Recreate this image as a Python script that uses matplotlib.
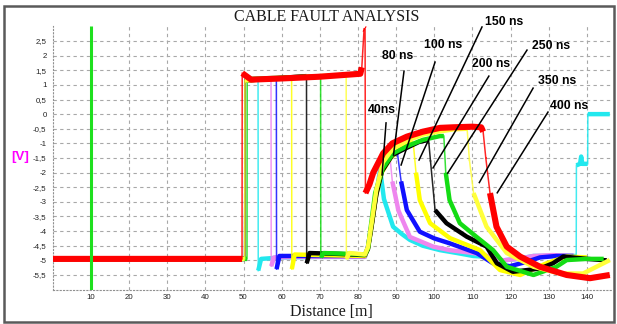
import numpy as np
import matplotlib
matplotlib.use("Agg")
import matplotlib.pyplot as plt
from matplotlib.patches import Rectangle

# ---------------- data ----------------
labels = ["40ns", "80 ns", "100 ns", "150 ns", "200 ns", "250 ns", "350 ns", "400 ns"]
colors = ["#22e8ee", "#ee86ee", "#1010ff", "#ffff00", "#000000", "#14dc14", "#ffff3a", "#ff0000"]

cyan_x = [0, 50.3, 50.35, 53.8, 53.85, 54.6, 60, 70, 81.8, 82.6, 83.6, 84.8, 85.8, 86.8, 89.2, 91.5, 93.6, 97,
          101.5, 106, 110.2, 114, 118, 122, 126, 130, 137.2, 137.25, 138.2, 138.5, 138.8, 140.2, 140.25, 146]
cyan_y = [-4.95, -4.95, 1.15, 1.2, -5.35, -4.95, -4.9, -4.88, -4.88, -4.55, -3.75, -2.7, -1.9, -2.9, -3.85, -4.1,
          -4.3, -4.5, -4.65, -4.75, -4.85, -4.88, -5.0, -4.95, -4.85, -4.85, -4.85, -1.75, -1.7, -1.45, -1.7, -1.7, 0.0, 0.0]

violet_x = [0, 50.3, 50.35, 57.2, 57.25, 58.0, 65, 75, 81.8, 82.6, 83.6, 84.8, 86.0, 87.5, 88.4, 89.0, 90.6, 93.6,
            99.7, 104, 110.2, 114, 118, 122, 126, 131, 136.5]
violet_y = [-4.95, -4.95, 1.15, 1.22, -5.2, -4.9, -4.88, -4.88, -4.88, -4.55, -3.75, -2.7, -1.9, -1.55, -1.5, -2.3,
            -3.3, -4.2, -4.53, -4.65, -4.75, -4.85, -5.0, -4.95, -4.85, -4.82, -4.85]

blue_x = [0, 50.3, 50.35, 58.6, 58.65, 59.4, 65, 75, 81.8, 82.6, 83.6, 84.8, 86, 88, 89.8, 90.4, 91.3, 92.8, 96.2,
          100, 104.1, 111.1, 115.4, 119.8, 124.2, 127.7, 132, 136.5]
blue_y = [-4.95, -4.95, 1.15, 1.22, -5.3, -4.85, -4.85, -4.85, -4.85, -4.55, -3.75, -2.7, -1.95, -1.45, -1.3, -1.4,
          -2.3, -3.28, -4.02, -4.25, -4.42, -4.75, -5.1, -5.2, -5.05, -4.9, -4.85, -4.85]

yellow_x = [0, 50.3, 50.35, 62.6, 62.65, 63.4, 70, 81.8, 82.6, 83.6, 84.8, 86.2, 88.5, 91, 93.8, 94.5, 95.2, 96.2,
            98.9, 104.1, 112, 117.2, 122.5, 129.4, 134.7, 140]
yellow_y = [-4.95, -4.95, 1.15, 1.25, -5.3, -4.8, -4.82, -4.85, -4.6, -3.8, -2.75, -2.0, -1.5, -1.2, -1.0, -1.0,
            -2.0, -2.94, -3.73, -4.24, -4.65, -5.33, -5.5, -5.1, -4.87, -4.9]

black_x = [0, 50.3, 50.35, 66.5, 66.55, 67.3, 75, 81.8, 82.6, 83.6, 84.8, 86.3, 89, 92.8, 96, 98.5, 99.0, 100.2,
           103.2, 108.5, 113.7, 116.4, 120.6, 127.7, 131.1, 133.8, 140, 145.2]
black_y = [-4.95, -4.95, 1.15, 1.3, -5.1, -4.75, -4.78, -4.82, -4.62, -3.8, -2.75, -1.95, -1.4, -1.15, -0.95, -0.88,
           -1.6, -3.28, -3.73, -4.19, -4.53, -5.1, -5.39, -5.28, -5.1, -4.87, -4.95, -5.0]

green_x = [0, 50.9, 50.95, 70.2, 70.25, 71.0, 78, 81.8, 82.6, 83.5, 84.5, 86.5, 89.2, 92.8, 97, 101.5, 102.5, 103.0,
           104.0, 106.7, 111, 115.4, 119, 126, 132, 134.7, 140, 144.4]
green_y = [-4.95, -4.95, 1.2, 1.3, -4.9, -4.75, -4.78, -4.8, -4.6, -3.7, -2.7, -1.85, -1.34, -1.1, -0.88, -0.75,
           -0.75, -2.0, -2.94, -3.73, -4.19, -4.65, -5.22, -5.5, -5.22, -4.99, -4.95, -4.95]

yellow2_x = [0, 50.3, 50.35, 76.9, 76.95, 77.7, 81.8, 82.6, 83.6, 84.8, 86.5, 89, 93, 97, 101, 105, 108.6, 109.2,
             110.3, 113.7, 119, 126, 133, 139, 146]
yellow2_y = [-4.95, -4.95, 1.15, 1.35, -4.95, -4.75, -4.8, -4.55, -3.7, -2.6, -1.65, -1.2, -0.9, -0.7, -0.6, -0.52,
             -0.5, -1.57, -2.7, -3.85, -4.75, -5.22, -5.45, -5.45, -4.99]

red_x = [0, 49.6, 49.65, 52, 60, 70, 80.6, 81.0, 81.6, 81.85, 81.95, 83.0, 84.0, 86.6, 89, 92.8, 97, 101.5, 105,
         110, 112.3, 112.8, 113.5, 114.6, 116.3, 119, 122.5, 127.7, 134.7, 140.8, 146]
red_y = [-4.95, -4.95, 1.4, 1.18, 1.22, 1.28, 1.38, 1.6, 2.92, 2.9, -2.7, -2.4, -2.0, -1.34, -1.0, -0.77, -0.6,
         -0.47, -0.45, -0.43, -0.45, -0.6, -1.5, -2.7, -3.85, -4.53, -4.87, -5.22, -5.5, -5.61, -5.5]

traces_x = [cyan_x, violet_x, blue_x, yellow_x, black_x, green_x, yellow2_x, red_x]
traces_y = [cyan_y, violet_y, blue_y, yellow_y, black_y, green_y, yellow2_y, red_y]

cursor_x = 10

x_ticks = [10, 20, 30, 40, 50, 60, 70, 80, 90, 100, 110, 120, 130, 140]
y_ticks = [2.5, 2, 1.5, 1, 0.5, 0, -0.5, -1, -1.5, -2, -2.5, -3, -3.5, -4, -4.5, -5, -5.5]
y_ticklabels = ["2,5", "2", "1,5", "1", "0,5", "0", "-0,5", "-1", "-1,5", "-2", "-2,5", "-3", "-3,5",
                "-4", "-4,5", "-5", "-5,5"]

# annotation layout (data coordinates)
ann_text_pos = [(86.3, 0.14), (90.5, 1.99), (102.3, 2.36), (118.3, 3.15), (114.9, 1.70),
                (130.6, 2.32), (132.2, 1.15), (135.3, 0.29)]
ann_line_start = [(87.35, -0.30), (92.06, 1.47), (100.2, 1.78), (112.5, 2.98), (114.3, 1.30),
                  (124.3, 2.19), (125.9, 0.89), (129.8, 0.07)]
ann_line_end = [(86.3, -2.08), (89.3, -1.40), (91.3, -1.74), (96.0, -1.57), (99.66, -1.84),
                (103.5, -2.02), (111.8, -2.34), (116.5, -2.69)]

# ---------------- figure ----------------
W, H = 617, 324
fig = plt.figure(figsize=(W / 100, H / 100), dpi=100)
fig.patch.set_facecolor("white")

# outer frame
fig.patches.append(Rectangle((3.5 / W, 2.0 / H), (613.5 - 3.5) / W, (318.0 - 2.0) / H,
                             transform=fig.transFigure, fill=False, edgecolor="#5a5a5a", lw=1.8))

ax = fig.add_axes([52.8 / W, 34.4 / H, (611.7 - 52.8) / W, (289.6 - 26.4) / H])
ax.set_xlim(0, 146.5)
ax.set_ylim(-6, 3)
ax.set_facecolor("white")

# grid
for gx in x_ticks:
    ax.axvline(gx, color="#a8a8a8", lw=0.8, ls=(0, (3, 3)), zorder=1)
for gy in y_ticks:
    ax.axhline(gy, color="#a8a8a8", lw=0.8, ls=(0, (3, 3)), zorder=1)

for s in ["top", "right"]:
    ax.spines[s].set_visible(False)
for s in ["left", "bottom"]:
    ax.spines[s].set_linestyle((0, (1, 2)))
    ax.spines[s].set_color("#909090")
    ax.spines[s].set_linewidth(0.8)

ax.set_xticks(x_ticks)
ax.set_xticklabels([str(v) for v in x_ticks])
ax.set_yticks(y_ticks)
ax.set_yticklabels(y_ticklabels)
ax.tick_params(length=0, labelsize=5.7, pad=4.5)
ax.tick_params(axis="x", pad=3)
for lab in ax.get_xticklabels() + ax.get_yticklabels():
    lab.set_fontfamily("Liberation Sans")
    lab.set_color("#222222")


def split_thin_thick(x, y):
    kx, ky = [x[0]], [y[0]]
    thin_x, thin_y = [], []
    for i in range(1, len(x)):
        dx = x[i] - x[i - 1]
        dy = y[i] - y[i - 1]
        slope = dy / dx if dx > 0 else np.inf * np.sign(dy)
        steep = (dx < 0.2 and abs(dy) > 0.5) or slope < -1.0 or slope > 2.0
        if steep:
            kx.append(np.nan); ky.append(np.nan)
            thin_x += [x[i - 1], x[i], np.nan]
            thin_y += [y[i - 1], y[i], np.nan]
        kx.append(x[i]); ky.append(y[i])
    return thin_x, thin_y, kx, ky


for i, (xs, ys) in enumerate(zip(traces_x, traces_y)):
    c = colors[i]
    thin_x, thin_y, kx, ky = split_thin_thick(xs, ys)
    lw_thick = 4.4 if i == len(traces_x) - 1 else 3.2
    ax.plot(thin_x, thin_y, color=c, lw=1.1, alpha=0.85, zorder=3 + i * 0.1)
    ax.plot(kx, ky, color=c, lw=lw_thick, solid_capstyle="butt", solid_joinstyle="round",
            zorder=3 + i * 0.1 + 0.05)

# cursor line
ax.plot([cursor_x, cursor_x], [-6, 3], color="#1ee01e", lw=2.2, zorder=5, solid_capstyle="butt")

# annotations
for lab, tp, ls, le in zip(labels, ann_text_pos, ann_line_start, ann_line_end):
    ax.plot([ls[0], le[0]], [ls[1], le[1]], color="black", lw=1.1, zorder=6, clip_on=False)
    ax.text(tp[0], tp[1], lab, ha="center", va="center", fontsize=8.8, fontweight="bold",
            family="Liberation Sans", color="black", zorder=7, clip_on=False)

fig.text(327 / W, 1 - 17 / H, "CABLE FAULT ANALYSIS", ha="center", va="center",
         family="Liberation Serif", fontsize=11.5, color="#1a1a1a")
fig.text(331 / W, 1 - 311.5 / H, "Distance [m]", ha="center", va="center",
         family="Liberation Serif", fontsize=11.5, color="#1a1a1a")
fig.text(20.5 / W, 1 - 157 / H, "[V]", ha="center", va="center",
         family="Liberation Sans", fontsize=9.5, fontweight="bold", color="#ff00ff")

fig.savefig("out.png", dpi=100, facecolor="white")
